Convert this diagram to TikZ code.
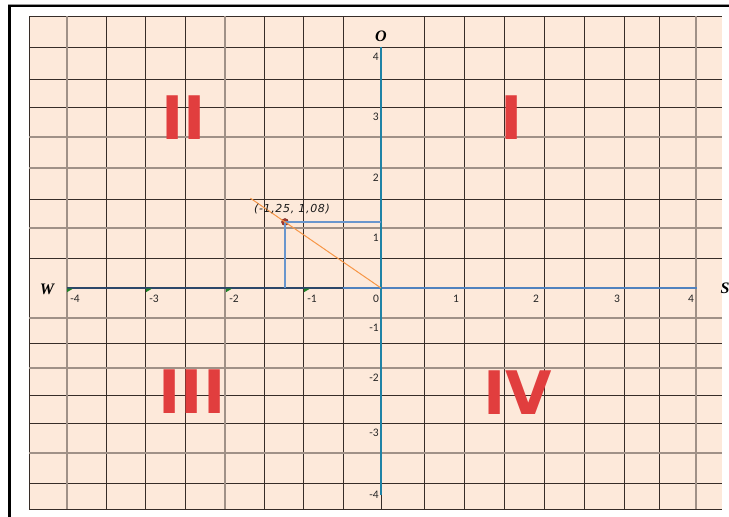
\documentclass[tikz,border=0pt]{standalone}
\usepackage{fontspec}
\setmainfont{Carlito}
\newfontfamily\quadfont{DejaVu Sans}
\newfontfamily\compassfont{Liberation Serif}
\newfontfamily\pointfont[LetterSpace=6.0]{DejaVu Sans}
\usepackage{tikz}
\usetikzlibrary{positioning, calc}
\usepackage{xcolor}
\definecolor{paperpeach}{RGB}{253, 233, 218}
\definecolor{gridbrown}{RGB}{55, 45, 40}
\definecolor{gridsoft}{RGB}{160, 145, 135}
\definecolor{xaxisblue}{RGB}{80, 130, 190}
\definecolor{yaxisteal}{RGB}{30, 130, 165}
\definecolor{guideblue}{RGB}{105, 150, 205}
\definecolor{rayorange}{RGB}{247, 150, 70}
\definecolor{dotred}{RGB}{165, 55, 45}
\definecolor{tickgreen}{RGB}{30, 130, 40}
\definecolor{quadred}{RGB}{225, 62, 62}

\begin{document}
\begin{tikzpicture}[
    x=1pt, y=-1pt,
    gridline/.style={draw=gridbrown, line width=0.8pt},
    softline/.style={draw=gridsoft, line width=1.3pt},
    axislabel/.style={font=\fontsize{11.5}{11.5}\selectfont, text=black!85, inner sep=0pt},
    compass/.style={font=\compassfont\bfseries\itshape\fontsize{16}{16}\selectfont, inner sep=0pt},
    quadrant/.style={font=\quadfont\bfseries\fontsize{60}{60}\selectfont, text=quadred, inner sep=0pt},
    guide/.style={draw=guideblue, line width=1.1pt},
]
    \useasboundingbox (0,0) rectangle (729,517);
    \clip (0,0) rectangle (729,517);
    \fill[white] (0,0) rectangle (729,517);

    % Frame
    \draw[black!40, line width=0.8pt] (8,4) -- (729,4);
    \draw[black, line width=1.5pt] (8,5.8) -- (729,5.8);
    \draw[black, line width=2.4pt] (9.5,5) -- (9.5,517);

    % Paper and grid
    \fill[paperpeach] (29,16) rectangle (722,509);
    \foreach \gx in {29,67,106,145,185,225,264,303,343,424,464,504,544,584,624,659,696}
      \draw[gridline] (\gx,16) -- (\gx,509);
    \draw[gridline] (381,47) -- (381,509);
    \foreach \gy in {16,47,79,107,137,168,199,228,258,318,343,368,395,423,453,483,509}
      \draw[gridline] (29,\gy) -- (722,\gy);
    \foreach \gx in {67,225,696}
      \draw[softline] (\gx,16) -- (\gx,509);
    \foreach \gy in {137,168,228,318,368,453}
      \draw[softline] (29,\gy) -- (722,\gy);

    % Axes
    \coordinate (orig) at (381,288);
    \coordinate (xneg) at (67,288);
    \coordinate (xmid) at (343,288);
    \coordinate (xpos) at (697,288);
    \coordinate (ypos) at (381,47);
    \coordinate (yneg) at (381,495);
    \draw[xaxisblue, line width=1.1pt] (xneg) -- (xpos);
    \draw[xaxisblue!55!black, line width=1.4pt] (xneg) -- (xmid);
    \draw[yaxisteal, line width=1.5pt] (ypos) -- (yneg);
    \foreach \tx in {67,146,226,304}
      \fill[tickgreen] (\tx,288.6) -- ++(6,0) -- ++(-6,3.6) -- cycle;

    % Tick labels
    \foreach \v/\px [count=\k] in {-4/75,-3/154,-2/234,-1/312,0/376,1/456,2/536,3/617,4/691}
      \node[axislabel] (xl\k) at (\px,299) {\v};
    \foreach \v/\py [count=\k] in {4/57,3/117,2/178,1/238,-1/328,-2/378,-3/433,-4/495}
      \node[axislabel, anchor=east] (yl\k) at (379,\py) {\v};

    % Point and its projections
    \node[circle, fill=dotred, draw=dotred!70!black, inner sep=0pt, minimum size=7pt] (pt) at (285,222) {};
    \coordinate (ptx) at (285,288);
    \coordinate (pty) at (381,222);
    \draw[guide] (pt.center) -- (pty);
    \draw[guide] (pt.center) -- (ptx);
    \draw[rayorange, line width=1pt] ($(orig)!1.36!(pt)$) -- (orig);
    \node[font=\pointfont\itshape\fontsize{11}{11}\selectfont, text=black!90, inner sep=0pt] (ptlabel) at (292,209) {(-1,25, 1,08)};

    % Quadrants
    \node[quadrant] (q2) at (184,117.5) {II};
    \node[quadrant] (q1) at (512,117.5) {I};
    \node[quadrant] (q3) at (192,391.5) {III};
    \node[quadrant] (q4) at (518,393) {IV};

    % Compass letters
    \node[compass] (north) at (381,36) {O};
    \node[compass] (west) at (47,289) {W};
    \node[compass] (east) at (725,288) {S};
\end{tikzpicture}
\end{document}
